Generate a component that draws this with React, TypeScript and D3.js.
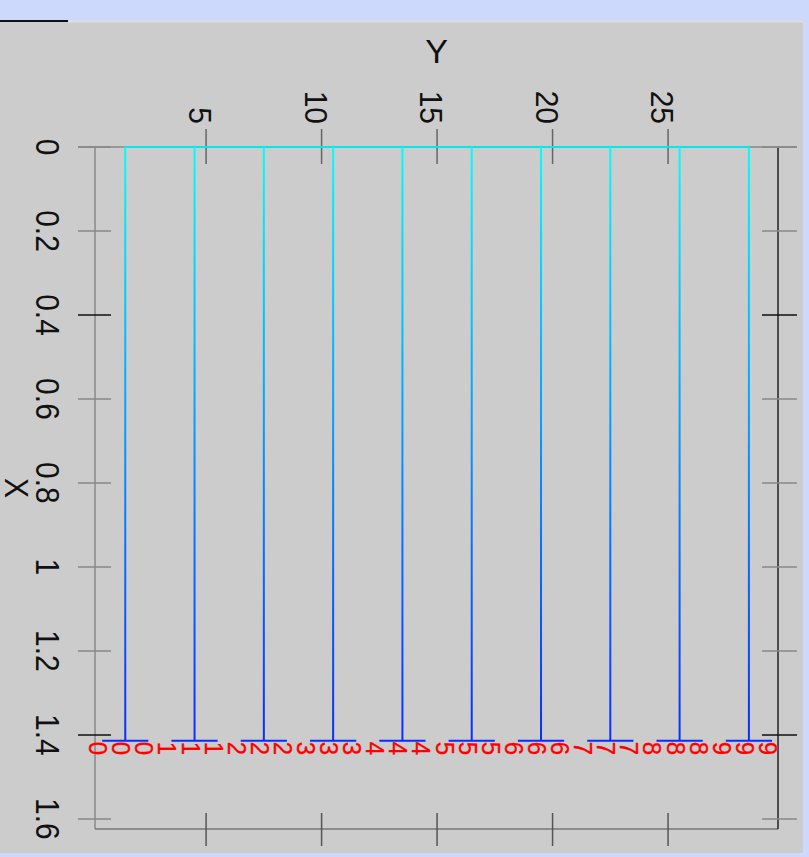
import React from "react";
import * as d3 from "d3";

// ---- data ----
const stemY = [1.5, 4.5, 7.5, 10.5, 13.5, 16.5, 19.5, 22.5, 25.5, 28.5];
const stemX = [1.414, 1.414, 1.414, 1.414, 1.414, 1.414, 1.414, 1.414, 1.414, 1.414];
const barFrom = [0.5, 3.5, 6.5, 9.5, 12.5, 15.5, 18.5, 21.5, 24.5, 27.5];
const barTo = [2.5, 5.5, 8.5, 11.5, 14.5, 17.5, 20.5, 23.5, 26.5, 29.5];
const labelY = [0, 1, 2, 3, 4, 5, 6, 7, 8, 9, 10, 11, 12, 13, 14, 15, 16, 17, 18, 19, 20, 21, 22, 23, 24, 25, 26, 27, 28, 29];
const labelText = ["0", "0", "0", "1", "1", "1", "2", "2", "2", "3", "3", "3", "4", "4", "4", "5", "5", "5", "6", "6", "6", "7", "7", "7", "8", "8", "8", "9", "9", "9"];
const xTicks = [0, 0.2, 0.4, 0.6, 0.8, 1, 1.2, 1.4, 1.6];
const xTickDark = [false, false, true, false, false, false, false, true, false];
const yTicks = [5, 10, 15, 20, 25];
const yDomain = [0.19, 29.76];
const xDomain = [0, 1.624];

const FONT = "'Liberation Sans', Arial, sans-serif";

export default function App() {
  const ys = d3.scaleLinear().domain(yDomain).range([95, 778]);
  const xs = d3.scaleLinear().domain(xDomain).range([147, 829]);
  const fmt = (v: number) => String(v);
  const x0 = ys.range()[0];
  const x1 = ys.range()[1];
  const yTop = xs.range()[0];
  const yBot = xs.range()[1];

  return (
    <div style={{ position: "fixed", left: 0, top: 0, width: 809, height: 857, background: "#ccd9fc" }}>
      <svg width={809} height={857} style={{ display: "block" }}>
        <defs>
          <linearGradient id="stemGrad" gradientUnits="userSpaceOnUse" x1={0} y1={xs(0)} x2={0} y2={xs(stemX[0])}>
            <stop offset="0" stopColor="#00ffff" />
            <stop offset="1" stopColor="#0a2cff" />
          </linearGradient>
        </defs>
        <rect x={0} y={20} width={809} height={837} fill="#ccd9fc" />
        <rect x={0} y={21} width={803} height={832} fill="#cccccc" />
        <line x1={68} x2={803} y1={21.5} y2={21.5} stroke="#dedede" strokeWidth={2} />
        <line x1={0} x2={68} y1={21} y2={21} stroke="#111" strokeWidth={2} />

        {/* axis box */}
        <line x1={x0} x2={x0} y1={yTop} y2={yBot} stroke="#888" strokeWidth={1.5} />
        <line x1={x0} x2={x1} y1={yBot} y2={yBot} stroke="#777" strokeWidth={1.5} />
        <line x1={x1} x2={x1} y1={yTop} y2={yBot} stroke="#222" strokeWidth={1.5} />
        <line x1={78} x2={797} y1={yTop} y2={yTop} stroke="#888" strokeWidth={1.5} />

        {/* left & right ticks */}
        {xTicks.map((t, i) => (
          <g key={"xt" + i}>
            <line x1={78} x2={111} y1={xs(t)} y2={xs(t)} stroke={xTickDark[i] ? "#111" : "#888"} strokeWidth={1.5} />
            <line x1={762} x2={797} y1={xs(t)} y2={xs(t)} stroke={xTickDark[i] ? "#111" : "#888"} strokeWidth={1.5} />
            <text
              transform={`translate(36,${xs(t)}) rotate(90) scale(1,1.12)`}
              textAnchor="middle"
              fontFamily={FONT}
              fontSize={30}
              fill="#111"
            >
              {fmt(t)}
            </text>
          </g>
        ))}

        {/* top & bottom ticks */}
        {yTicks.map((t, i) => (
          <g key={"yt" + i}>
            <line x1={ys(t)} x2={ys(t)} y1={129} y2={164} stroke="#666" strokeWidth={1.5} />
            <line x1={ys(t)} x2={ys(t)} y1={813} y2={846} stroke="#555" strokeWidth={1.5} />
            <text
              transform={`translate(${ys(t) - 17},124) rotate(90) scale(1,1.05)`}
              textAnchor="end"
              fontFamily={FONT}
              fontSize={30}
              fill="#111"
            >
              {fmt(t)}
            </text>
          </g>
        ))}

        {/* axis titles */}
        <text x={ys((yDomain[0] + yDomain[1]) / 2)} y={63} textAnchor="middle" fontFamily={FONT} fontSize={34} fill="#111">
          Y
        </text>
        <text
          transform={`translate(5,${xs((xDomain[0] + xDomain[1]) / 2)}) rotate(90) scale(1,1.08)`}
          textAnchor="middle"
          fontFamily={FONT}
          fontSize={30}
          fill="#111"
        >
          X
        </text>

        {/* top connector */}
        <line x1={ys(stemY[0])} x2={ys(stemY[stemY.length - 1])} y1={xs(0)} y2={xs(0)} stroke="#00e8f0" strokeWidth={2} />

        {/* stems */}
        {stemY.map((v, i) => (
          <g key={"s" + i}>
            <rect x={ys(v) - 1} y={xs(0)} width={2} height={xs(stemX[i]) - xs(0)} fill="url(#stemGrad)" />
            <line x1={ys(barFrom[i])} x2={ys(barTo[i])} y1={xs(stemX[i])} y2={xs(stemX[i])} stroke="#0a2cff" strokeWidth={2} />
          </g>
        ))}

        {/* labels */}
        {labelY.map((v, i) => (
          <text
            key={"l" + i}
            transform={`translate(${ys(v) - 1.5},${xs(stemX[0]) + 1}) rotate(90) scale(1,1.05)`}
            textAnchor="start"
            fontFamily={FONT}
            fontSize={24}
            fill="#ff0000"
            stroke="#ff0000"
            strokeWidth={0.3}
          >
            {labelText[i]}
          </text>
        ))}
      </svg>
    </div>
  );
}
